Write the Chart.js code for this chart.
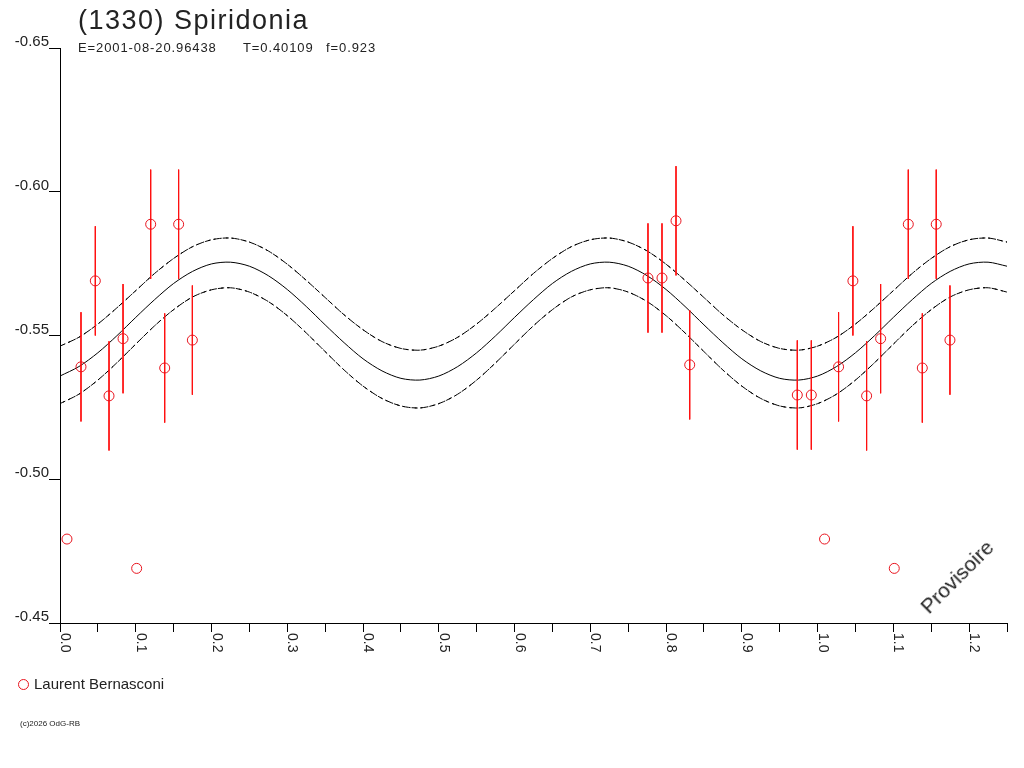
<!DOCTYPE html>
<html>
<head>
<meta charset="utf-8">
<script src="https://cdn.jsdelivr.net/npm/chart.js@4.4.1/dist/chart.umd.min.js"></script>
<style>
  html, body { margin: 0; padding: 0; background: #fff; }
  #wrap { position: relative; width: 1024px; height: 768px; overflow: hidden; font-family: "Liberation Sans", Arial, sans-serif; color: #222; }
  #c { position: absolute; left: 0; top: 0; }
  .t { position: absolute; white-space: pre; line-height: 1; }
  #title { left: 78px; top: 7px; font-size: 27px; letter-spacing: 1.5px; }
  .sub { top: 41px; font-size: 13px; letter-spacing: 0.9px; }
  #legend { left: 18px; top: 676px; font-size: 15px; }
  #legend span.dot { display: inline-block; width: 9px; height: 9px; border: 1px solid #e8141e; border-radius: 50%; vertical-align: -1px; margin-right: 5px; }
  #copy { left: 20px; top: 720px; font-size: 8px; }
  #prov { left: 910px; top: 566px; font-size: 21px; transform: rotate(-45deg); transform-origin: 50% 50%; }
</style>
</head>
<body>
<div id="wrap">
  <canvas id="c" width="1024" height="768"></canvas>
  <div class="t" id="title">(1330) Spiridonia</div>
  <div class="t sub" style="left:78px">E=2001-08-20.96438</div>
  <div class="t sub" style="left:243px">T=0.40109</div>
  <div class="t sub" style="left:326px">f=0.923</div>
  <div class="t" id="legend"><span class="dot"></span>Laurent Bernasconi</div>
  <div class="t" id="copy">(c)2026 OdG-RB</div>
  <div class="t" id="prov">Provisoire</div>
</div>
<script>
// ---- observations (phase, reduced magnitude, error) ----
const obsPhase = [0.0092, 0.0277, 0.0466, 0.0647, 0.0832, 0.1012, 0.1197, 0.1382, 0.1566, 0.1747,
                  0.7761, 0.7946, 0.8131, 0.8312, 0.9732, 0.9917];
const obsMag   = [-0.4792, -0.5391, -0.5690, -0.5290, -0.5489, -0.4690, -0.5887, -0.5387, -0.5887, -0.5484,
                  -0.5700, -0.5700, -0.5899, -0.5398, -0.5293, -0.5293];
const obsErr   = [0, 0.019, 0.019, 0.019, 0.019, 0, 0.019, 0.019, 0.019, 0.019,
                  0.019, 0.019, 0.019, 0.019, 0.019, 0.019];

// ---- fitted light curve (every 0.025 in phase) ----
const curvePhase = [0.000, 0.025, 0.050, 0.075, 0.100, 0.125, 0.150, 0.175, 0.200, 0.225,
                    0.250, 0.275, 0.300, 0.325, 0.350, 0.375, 0.400, 0.425, 0.450, 0.475,
                    0.500, 0.525, 0.550, 0.575, 0.600, 0.625, 0.650, 0.675, 0.700, 0.725,
                    0.750, 0.775, 0.800, 0.825, 0.850, 0.875, 0.900, 0.925, 0.950, 0.975,
                    1.000, 1.025, 1.050, 1.075, 1.100, 1.125, 1.150, 1.175, 1.200, 1.225, 1.250];
const curveMid = [-0.5359, -0.5392, -0.5440, -0.5499, -0.5563, -0.5625, -0.5681, -0.5723, -0.5749, -0.5755,
                  -0.5741, -0.5708, -0.5660, -0.5601, -0.5537, -0.5475, -0.5419, -0.5377, -0.5351, -0.5345,
                  -0.5359, -0.5392, -0.5440, -0.5499, -0.5563, -0.5625, -0.5681, -0.5723, -0.5749, -0.5755,
                  -0.5741, -0.5708, -0.5660, -0.5601, -0.5537, -0.5475, -0.5419, -0.5377, -0.5351, -0.5345,
                  -0.5359, -0.5392, -0.5440, -0.5499, -0.5563, -0.5625, -0.5681, -0.5723, -0.5749, -0.5755, -0.5741];
const curveUpper = [-0.5463, -0.5494, -0.5540, -0.5596, -0.5656, -0.5716, -0.5768, -0.5809, -0.5833, -0.5839,
                    -0.5825, -0.5794, -0.5748, -0.5692, -0.5632, -0.5572, -0.5520, -0.5479, -0.5455, -0.5449,
                    -0.5463, -0.5494, -0.5540, -0.5596, -0.5656, -0.5716, -0.5768, -0.5809, -0.5833, -0.5839,
                    -0.5825, -0.5794, -0.5748, -0.5692, -0.5632, -0.5572, -0.5520, -0.5479, -0.5455, -0.5449,
                    -0.5463, -0.5494, -0.5540, -0.5596, -0.5656, -0.5716, -0.5768, -0.5809, -0.5833, -0.5839, -0.5825];
const curveLower = [-0.5263, -0.5296, -0.5345, -0.5405, -0.5470, -0.5534, -0.5590, -0.5634, -0.5659, -0.5666,
                    -0.5651, -0.5618, -0.5569, -0.5509, -0.5444, -0.5380, -0.5324, -0.5281, -0.5255, -0.5248,
                    -0.5263, -0.5296, -0.5345, -0.5405, -0.5470, -0.5534, -0.5590, -0.5634, -0.5659, -0.5666,
                    -0.5651, -0.5618, -0.5569, -0.5509, -0.5444, -0.5380, -0.5324, -0.5281, -0.5255, -0.5248,
                    -0.5263, -0.5296, -0.5345, -0.5405, -0.5470, -0.5534, -0.5590, -0.5634, -0.5659, -0.5666, -0.5651];

// ---- axes ----
const xMin = 0, xMax = 1.25, xStep = 0.05;
const yMin = -0.65, yMax = -0.45, yStep = 0.05;
const xTickValues = [0.0, 0.1, 0.2, 0.3, 0.4, 0.5, 0.6, 0.7, 0.8, 0.9, 1.0, 1.1, 1.2];
const xTickLabels = ['0.0', '0.1', '0.2', '0.3', '0.4', '0.5', '0.6', '0.7', '0.8', '0.9', '1.0', '1.1', '1.2'];

// phase-folded points shown twice when phase+1 is still inside the axis
const pts = [], bars = [];
obsPhase.forEach((p, i) => {
  [p, p + 1].forEach(ph => {
    if (ph > xMax) return;
    pts.push({x: ph, y: obsMag[i]});
    if (obsErr[i] > 0) {
      bars.push({x: ph, y: obsMag[i] - obsErr[i]});
      bars.push({x: ph, y: obsMag[i] + obsErr[i]});
      bars.push({x: ph, y: null});
    }
  });
});
const toXY = arr => curvePhase.map((p, i) => ({x: p, y: arr[i]}));

const xLabelPlugin = {
  id: 'xLabels',
  afterDraw(chart) {
    const ctx = chart.ctx, sx = chart.scales.x, bottom = chart.chartArea.bottom;
    ctx.save();
    ctx.font = '14px "Liberation Sans", Arial, sans-serif';
    ctx.fillStyle = '#222';
    ctx.textAlign = 'left';
    ctx.textBaseline = 'alphabetic';
    xTickValues.forEach((v, i) => {
      const px = sx.getPixelForValue(v);
      ctx.save();
      ctx.translate(px + 1, bottom + 10);
      ctx.rotate(Math.PI / 2);
      ctx.fillText(xTickLabels[i], 0, 0);
      ctx.restore();
    });
    ctx.restore();
  }
};

const lineCommon = {type: 'line', pointRadius: 0, borderWidth: 1, fill: false, tension: 0.3, borderColor: '#000'};

new Chart(document.getElementById('c'), {
  data: {
    datasets: [
      Object.assign({}, lineCommon, {data: toXY(curveMid), order: 3}),
      Object.assign({}, lineCommon, {data: toXY(curveUpper), borderDash: [6, 3], order: 4}),
      Object.assign({}, lineCommon, {data: toXY(curveUpper), borderDash: [2, 4], borderDashOffset: 3, order: 4}),
      Object.assign({}, lineCommon, {data: toXY(curveLower), borderDash: [6, 3], order: 4}),
      Object.assign({}, lineCommon, {data: toXY(curveLower), borderDash: [2, 4], borderDashOffset: 3, order: 4}),
      {type: 'line', data: bars, borderColor: '#ff1010', borderWidth: 1, pointRadius: 0, spanGaps: false, tension: 0, order: 2},
      {type: 'scatter', data: pts, pointStyle: 'circle', pointRadius: 5, borderColor: '#e8141e',
       backgroundColor: 'rgba(0,0,0,0)', borderWidth: 1, order: 1}
    ]
  },
  options: {
    responsive: false,
    animation: false,
    devicePixelRatio: 1,
    layout: {padding: {left: 0, right: 17, top: 48, bottom: 105}},
    plugins: {legend: {display: false}, tooltip: {enabled: false}},
    scales: {
      x: {
        type: 'linear', min: xMin, max: xMax,
        ticks: {display: false, stepSize: xStep, autoSkip: false},
        grid: {drawOnChartArea: false, drawTicks: true, tickLength: 9, color: '#000', lineWidth: 1},
        border: {display: true, color: '#000', width: 1},
        afterFit(s) { s.height = 40; }
      },
      y: {
        type: 'linear', min: yMin, max: yMax, reverse: true,
        ticks: {stepSize: yStep, padding: 0, labelOffset: -6, color: '#222',
                font: {family: '"Liberation Sans", Arial, sans-serif', size: 15},
                callback: v => v.toFixed(2)},
        grid: {drawOnChartArea: false, drawTicks: true, tickLength: 11, color: '#000', lineWidth: 1},
        border: {display: true, color: '#000', width: 1},
        afterFit(s) { s.width = 60; }
      }
    }
  },
  plugins: [xLabelPlugin]
});
</script>
</body>
</html>
